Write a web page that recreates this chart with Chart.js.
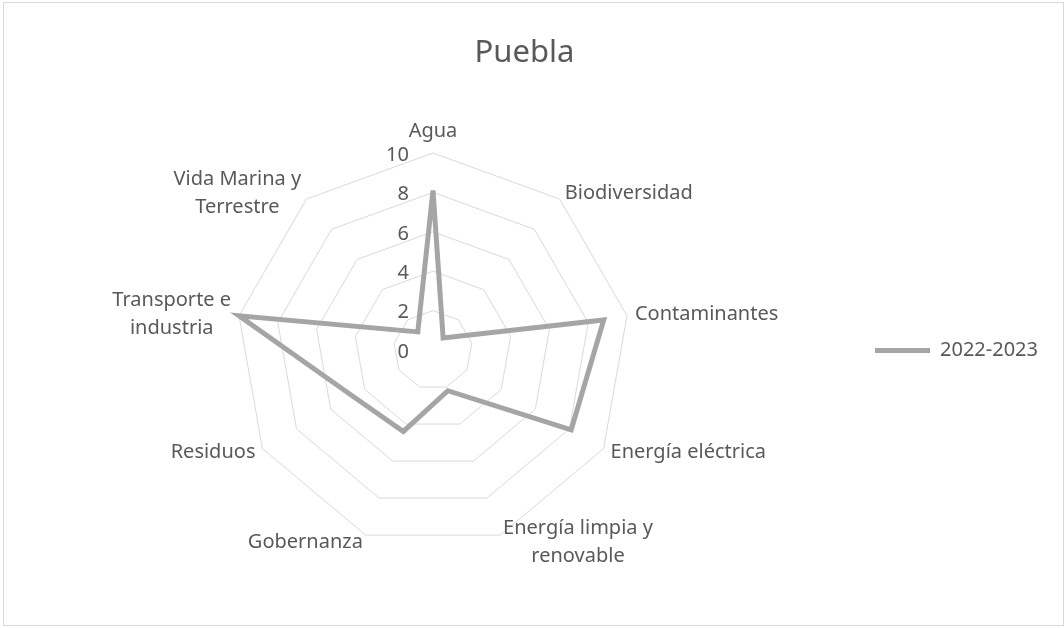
<!DOCTYPE html>
<html>
<head>
<meta charset="utf-8">
<script src="https://cdn.jsdelivr.net/npm/chart.js@4"></script>
<style>
  html, body { margin: 0; padding: 0; background: #fff; }
  #wrap { position: relative; width: 1064px; height: 628px; }
  #frame { position: absolute; left: 3px; top: 2px; width: 1061px; height: 624px;
           border: 1px solid #d9d9d9; box-sizing: border-box; }
  canvas { position: absolute; left: 0; top: 0; }
</style>
</head>
<body>
<div id="wrap">
  <div id="frame"></div>
  <canvas id="chart" width="1064" height="628"></canvas>
</div>
<script>
const categories = [
  "Agua", "Biodiversidad", "Contaminantes", "Energía eléctrica",
  ["Energía limpia y", "renovable"], "Gobernanza", "Residuos",
  ["Transporte e", "industria"], ["Vida Marina y", "Terrestre"]
];
const seriesName = "2022-2023";
const values = [8.1, 0.8, 8.8, 8.1, 2.2, 4.4, 4.7, 10, 1.2];
const tickValues = [0, 2, 4, 6, 8, 10];

const textColor = "#595959";
Chart.defaults.font.family = "'Noto Sans', sans-serif";
Chart.defaults.color = textColor;

// Excel-style labels: numbers left of the first spoke, names outside the outer ring
const radarText = {
  id: "radarText",
  afterDraw(chart) {
    const r = chart.scales.r;
    const ctx = chart.ctx;
    ctx.save();
    ctx.fillStyle = textColor;
    ctx.font = "20px 'Noto Sans'";
    ctx.textBaseline = "middle";

    ctx.textAlign = "right";
    r.ticks.forEach(t => {
      const y = r.yCenter - r.getDistanceFromCenterForValue(t.value);
      ctx.fillText(t.label, r.xCenter - 24, y + 2);
    });

    const lineH = 28;
    ctx.textAlign = "center";
    chart.data.labels.forEach((lab, i) => {
      const lines = [].concat(lab);
      const p = r.getPointPosition(i, r.drawingArea + 8);
      const w = Math.max(...lines.map(s => ctx.measureText(s).width));
      const h = lines.length * lineH;
      const dx = p.x - r.xCenter;
      let cx = p.x, cy = p.y;
      if (dx > 1) cx += w / 2;
      else if (dx < -1) cx -= w / 2;
      else cy += (p.y < r.yCenter ? -1 : 1) * h / 2;
      lines.forEach((s, k) => ctx.fillText(s, cx, cy - h / 2 + lineH / 2 + k * lineH));
    });
    ctx.restore();
  }
};

new Chart(document.getElementById("chart"), {
  type: "radar",
  data: {
    labels: categories,
    datasets: [{
      label: seriesName,
      data: values,
      borderColor: "#a5a5a5",
      backgroundColor: "#a5a5a5",
      borderWidth: 5,
      borderCapStyle: "round",
      borderJoinStyle: "miter",
      pointRadius: 0,
      fill: false,
      tension: 0
    }]
  },
  options: {
    responsive: false,
    animation: false,
    events: [],
    layout: { padding: { left: 1, right: 16, top: 0, bottom: 80 } },
    plugins: {
      title: {
        display: true,
        text: "Puebla",
        color: textColor,
        font: { size: 31, weight: "normal" },
        padding: { top: 35, bottom: 81 }
      },
      legend: {
        position: "right",
        fullSize: false,
        labels: {
          usePointStyle: true,
          pointStyle: "line",
          pointStyleWidth: 55,
          color: textColor,
          font: { size: 20 },
          padding: 10
        }
      },
      tooltip: { enabled: false }
    },
    scales: {
      r: {
        min: tickValues[0],
        max: tickValues[tickValues.length - 1],
        ticks: { stepSize: tickValues[1] - tickValues[0], display: false },
        grid: { color: "#d9d9d9", lineWidth: 1 },
        angleLines: { display: false },
        pointLabels: { display: false }
      }
    }
  },
  plugins: [radarText]
});
</script>
</body>
</html>
